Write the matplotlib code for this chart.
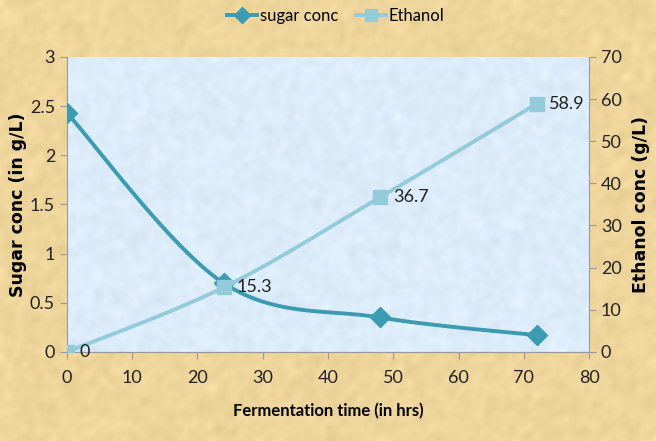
import numpy as np
import matplotlib.pyplot as plt
from matplotlib.lines import Line2D

plt.rcParams['font.family'] = ['Lato', 'DejaVu Sans']

hours = [0, 24, 48, 72]
sugar_conc = [2.43, 0.70, 0.35, 0.17]
ethanol = [0, 15.3, 36.7, 58.9]

sugar_col = '#3b9bb3'
eth_col = '#93cbdb'


def smooth(x, y, n=40):
    # catmull-rom style curve through the points, like a smoothed line in excel
    x = np.asarray(x, float)
    y = np.asarray(y, float)
    px = np.concatenate([[x[0]], x, [x[-1]]])
    py = np.concatenate([[y[0]], y, [y[-1]]])
    xs, ys = [], []
    for i in range(1, len(px) - 2):
        p0, p1, p2, p3 = [np.array([px[j], py[j]]) for j in range(i - 1, i + 3)]
        c1 = p1 + (p2 - p0) / 6
        c2 = p2 - (p3 - p1) / 6
        t = np.linspace(0, 1, n)[:, None]
        b = (1 - t) ** 3 * p1 + 3 * (1 - t) ** 2 * t * c1 + 3 * (1 - t) * t ** 2 * c2 + t ** 3 * p2
        xs.extend(b[:, 0])
        ys.extend(b[:, 1])
    return xs, ys


fig = plt.figure(figsize=(6.56, 4.41), dpi=100)
fig.patch.set_facecolor('#ecd49e')

# parchment texture behind everything
rng = np.random.default_rng(3)
tex = rng.normal(0, 1, (110, 164))
tex = (tex + np.roll(tex, 1, 1) + np.roll(tex, 1, 0)) / 3
bg = fig.add_axes([0, 0, 1, 1], zorder=-10)
base = np.array([238, 213, 155]) / 255
img = np.clip(base[None, None, :] + tex[:, :, None] * np.array([0.03, 0.03, 0.035]), 0, 1)
bg.imshow(img, aspect='auto', interpolation='bicubic', extent=[0, 1, 0, 1])
bg.axis('off')

ax = fig.add_axes([0.102, 0.202, 0.796, 0.669])
ax.set_facecolor('none')
tex2 = rng.normal(0, 1, (60, 110))
blue = np.array([221, 236, 250]) / 255
img2 = np.clip(blue[None, None, :] + tex2[:, :, None] * 0.018, 0, 1)
ax.imshow(img2, aspect='auto', interpolation='bicubic', extent=[0, 80, 0, 3], zorder=0)

sx, sy = smooth(hours, sugar_conc)
ax.plot(sx, sy, color=sugar_col, lw=2.8, zorder=3)
ax.plot(hours, sugar_conc, ls='none', marker='D', ms=10, color=sugar_col, zorder=4)

ax.set_xlim(0, 80)
ax.set_ylim(0, 3)
ax.set_xticks(range(0, 81, 10))
ax.set_yticks([0, 0.5, 1, 1.5, 2, 2.5, 3])
ax.set_yticklabels(['0', '0.5', '1', '1.5', '2', '2.5', '3'])

ax2 = ax.twinx()
ex, ey = smooth(hours, ethanol)
ax2.plot(ex, ey, color=eth_col, lw=2.8, zorder=3)
ax2.plot(hours, ethanol, ls='none', marker='s', ms=10, color=eth_col, zorder=4)
ax2.set_ylim(0, 70)
ax2.set_yticks(range(0, 71, 10))
for h, v in zip(hours, ethanol):
    ax2.annotate(f'{v:g}', (h, v), xytext=(9, 0), textcoords='offset points',
                 va='center', ha='left', fontsize=13, color='#222222')

for a in (ax, ax2):
    a.spines['top'].set_visible(False)
    for s in ('left', 'right', 'bottom'):
        a.spines[s].set_color('#9a9a9a')
    a.tick_params(colors='#9a9a9a', labelcolor='#222222', labelsize=13, length=5, direction='out')
ax.spines['right'].set_visible(False)
ax2.spines['left'].set_visible(False)
ax.tick_params(axis='x', pad=8)

ax.set_xlabel('Fermentation time (in hrs)', fontsize=12, fontweight='bold', labelpad=12)
ax.set_ylabel('Sugar conc (in g/L)', fontsize=12.5, fontweight='bold',
              family='DejaVu Sans')
ax.yaxis.set_label_coords(-0.077, 0.5)
ax2.set_ylabel('Ethanol conc (g/L)', fontsize=12.5, fontweight='bold',
               family='DejaVu Sans')
ax2.yaxis.set_label_coords(1.083, 0.5)

handles = [Line2D([], [], color=sugar_col, lw=2.8, marker='D', ms=8),
           Line2D([], [], color=eth_col, lw=2.8, marker='s', ms=8)]
fig.legend(handles, ['sugar conc', 'Ethanol'], loc='center', bbox_to_anchor=(0.512, 0.963),
           ncol=2, frameon=False, fontsize=12, handlelength=1.8, handletextpad=0.2,
           columnspacing=1.0)

fig.savefig('out.png', dpi=100, facecolor=fig.get_facecolor())
